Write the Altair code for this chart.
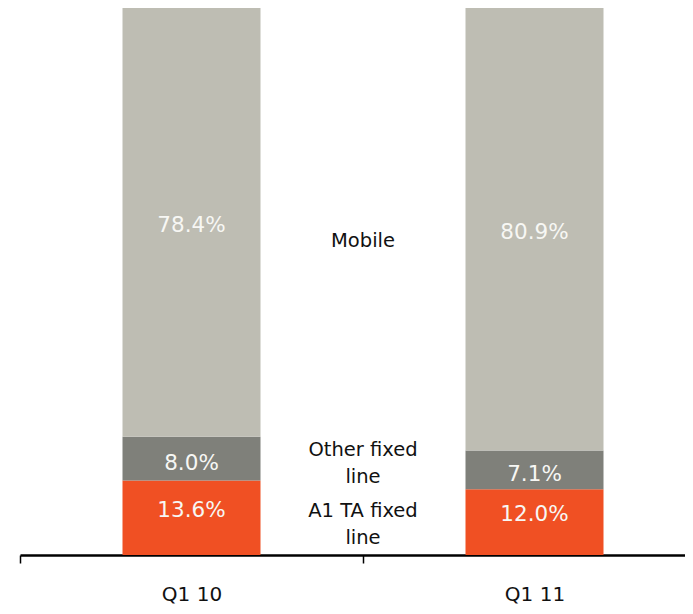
import altair as alt
import pandas as pd

quarters = ["Q1 10", "Q1 11"]
segments = ["A1 TA fixed line", "Other fixed line", "Mobile"]
segment_lines = [["A1 TA fixed", "line"], ["Other fixed", "line"], ["Mobile"]]
a1_ta_fixed = [13.6, 12.0]
other_fixed = [8.0, 7.1]
mobile = [78.4, 80.9]
colors = ["#F05023", "#7F807A", "#BEBDB3"]

rows = []
for i, q in enumerate(quarters):
    vals = [a1_ta_fixed[i], other_fixed[i], mobile[i]]
    base = 0.0
    for j, (s, v) in enumerate(zip(segments, vals)):
        rows.append(dict(quarter=q, segment=s, order=j, value=v, y0=base, y1=base + v,
                         mid=base + v / 2, label=f"{v:.1f}%"))
        base += v
df = pd.DataFrame(rows)

leg = df[df.quarter == quarters[0]].copy()
leg["lines"] = segment_lines

xscale = alt.Scale(domain=quarters, range=[0, 686], paddingInner=0, paddingOuter=0)
yscale = alt.Scale(domain=[0, 100], nice=False)
cscale = alt.Scale(domain=segments, range=colors)

base = alt.Chart(df)

bars = base.mark_bar(size=138).encode(
    x=alt.X("quarter:N", scale=xscale, sort=quarters,
            axis=alt.Axis(title=None, labelAngle=0, tickBand="extent")),
    y=alt.Y("y0:Q", scale=yscale, axis=None),
    y2="y1:Q",
    color=alt.Color("segment:N", scale=cscale, legend=None),
)

label_dy = {"A1 TA fixed line": -7, "Other fixed line": 5, "Mobile": 4}
texts = []
for s in segments:
    texts.append(
        base.transform_filter(alt.datum.segment == s).mark_text(
            font="DejaVu Sans", fontSize=21.5, color="#F7F7F4", baseline="middle",
            dy=label_dy[s]
        ).encode(
            x=alt.X("quarter:N", scale=xscale, sort=quarters),
            y=alt.Y("mid:Q", scale=yscale),
            text="label:N",
        )
    )

leg_dy = {"A1 TA fixed line": -7, "Other fixed line": -9, "Mobile": 19}
legs = []
for s in segments:
    legs.append(
        alt.Chart(leg).transform_filter(alt.datum.segment == s).mark_text(
            font="DejaVu Sans", fontSize=19.5, color="#111111", baseline="middle",
            lineHeight=27, dy=leg_dy[s]
        ).encode(
            x=alt.value(343),
            y=alt.Y("mid:Q", scale=yscale),
            text="lines",
        )
    )

chart = alt.layer(bars, *texts, *legs).properties(
    width=665, height=547,
    autosize=alt.AutoSizeParams(type="none"),
    padding={"left": 12, "top": 0, "right": 0, "bottom": 51},
).configure_view(stroke=None).configure_axis(
    domainColor="#000000", domainWidth=2.5, tickColor="#000000", tickWidth=1.5,
    tickSize=8, labelFont="DejaVu Sans", labelFontSize=20, labelColor="#111111",
    labelPadding=31, labelBaseline="middle", grid=False,
)

chart.save("out.html", embed_options={"renderer": "svg", "actions": False})
